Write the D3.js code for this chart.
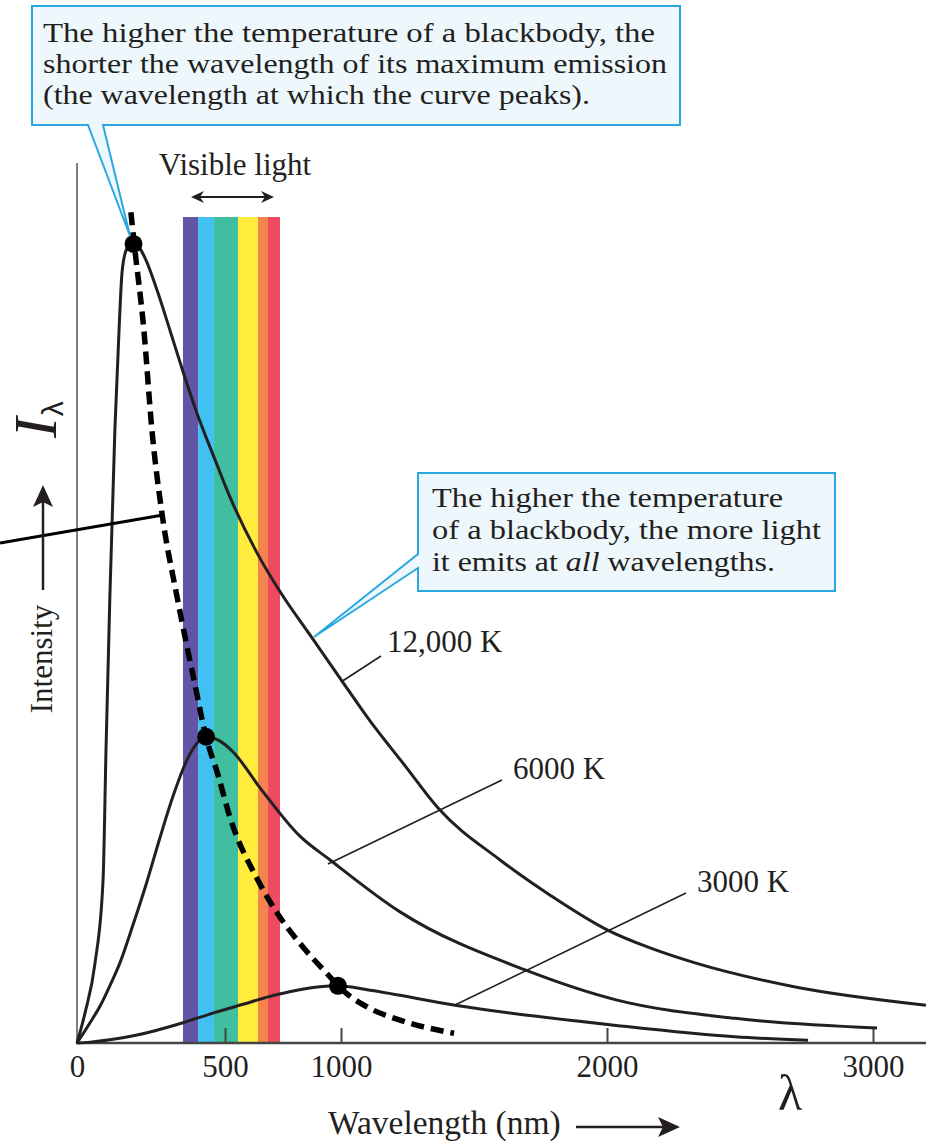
<!DOCTYPE html>
<html>
<head>
<meta charset="utf-8">
<script src="https://cdn.jsdelivr.net/npm/d3@7"></script>
<style>
  body { margin: 0; background: #fff; }
  svg text { font-family: "Liberation Serif", "Times New Roman", serif; fill: #231f20; }
</style>
</head>
<body>
<div id="chart"></div>
<script>
// values (wavelength in nm, intensity in arbitrary units 0-100)
const wl12000 = [0, 27, 61, 88, 98, 111, 128, 142, 152, 166, 189, 230, 270, 314, 358, 405, 466, 522, 638, 737, 879, 1000, 1109, 1241, 1365, 1598, 1786, 2004, 2162, 2331, 2703, 3199];
const in12000 = [0, 3.4, 9.1, 18.5, 33.3, 50.7, 69.7, 81.0, 87.5, 90.1, 91.1, 89.2, 85.6, 81.0, 76.3, 71.6, 66.3, 62.0, 55.7, 51.3, 45.9, 41.3, 36.6, 31.5, 26.7, 20.8, 16.8, 12.8, 10.8, 9.1, 6.4, 4.3];

const wl6000 = [0, 44, 78, 111, 145, 189, 236, 280, 324, 372, 409, 436, 483, 534, 651, 823, 953, 1222, 1692, 2034, 2481, 3015];
const in6000 = [0, 2.3, 4.2, 6.5, 9.1, 13.4, 18.3, 23.3, 28.0, 32.2, 34.2, 34.8, 34.3, 33.1, 29.0, 23.5, 20.8, 14.9, 8.3, 4.9, 2.8, 1.7];

const wl3000 = [0, 44, 203, 358, 459, 578, 694, 810, 909, 987, 1109, 1429, 2034, 2481, 2756];
const in3000 = [0, 0.1, 0.9, 2.3, 3.4, 4.4, 5.3, 6.0, 6.4, 6.5, 6.0, 4.3, 2.0, 0.7, 0.3];

// Wien's displacement curve (dashed) and the peaks
const wlWien = [182, 193, 226, 253, 287, 338, 395, 436, 476, 522, 642, 724, 836, 953, 987, 1098, 1222, 1425];
const inWien = [94.4, 90.9, 81.0, 69.7, 60.2, 50.7, 41.3, 34.8, 30.5, 25.6, 18.5, 14.8, 10.9, 7.5, 6.5, 4.1, 2.6, 1.1];
const peakWl = [191, 436, 987];
const peakIn = [90.8, 34.8, 6.5];

// visible band edges (nm) and colours
const bandEdges = [358, 409, 463, 556, 642, 685, 737];
const bandColors = ["#6255a8", "#40c1f1", "#3fbf9f", "#ffec3d", "#f4844c", "#ef4b60"];

const xTicks = [0, 500, 1000, 2000, 3000];
const tempLabels = ["12,000 K", "6000 K", "3000 K"];

const W = 926, H = 1141;
const svg = d3.select("#chart").append("svg")
  .attr("width", W).attr("height", H);

// the printed axis is not linear: 500 sits further right than it should
const x = d3.scaleLinear().domain([0, 500, 1000, 2000, 3000]).range([77, 225, 341, 607, 873]);
const y = d3.scaleLinear().domain([0, 100]).range([1043, 163]);
const ink = "#231f20";

// spectrum band
const bands = d3.range(bandColors.length).map(i => ({a: bandEdges[i], b: bandEdges[i + 1], c: bandColors[i]}));
svg.selectAll("rect.band").data(bands).enter().append("rect")
  .attr("class", "band")
  .attr("x", d => x(d.a)).attr("width", d => x(d.b) - x(d.a))
  .attr("y", 217).attr("height", y(0) - 217)
  .attr("fill", d => d.c);

// y axis line
svg.append("line")
  .attr("x1", x(0)).attr("x2", x(0)).attr("y1", y(0)).attr("y2", y(100))
  .attr("stroke", "#555").attr("stroke-width", 1.5);

// x axis
const xAxis = d3.axisBottom(x).tickValues(xTicks).tickSize(-15).tickSizeOuter(0).tickPadding(12)
  .tickFormat(d3.format("d"));
const gx = svg.append("g").attr("transform", `translate(0,${y(0)})`).call(xAxis);
gx.select(".domain").remove();
gx.selectAll(".tick line").attr("stroke", "#444").attr("stroke-width", 2);
gx.selectAll(".tick text").attr("font-size", 31).attr("font-family", "Liberation Serif").attr("fill", ink);
gx.selectAll(".tick").filter(d => d === 0).select("line").remove();
svg.append("line")
  .attr("x1", x(0) - 1).attr("x2", W).attr("y1", y(0)).attr("y2", y(0))
  .attr("stroke", "#444").attr("stroke-width", 2.5);

// blackbody curves
const line = d3.line().x(d => x(d[0])).y(d => y(d[1])).curve(d3.curveMonotoneX);
const series = [
  d3.zip(wl12000, in12000),
  d3.zip(wl6000, in6000),
  d3.zip(wl3000, in3000)
];
svg.selectAll("path.bb").data(series).enter().append("path")
  .attr("class", "bb")
  .attr("d", line)
  .attr("fill", "none").attr("stroke", ink).attr("stroke-width", 3);

// Wien curve
svg.append("path")
  .attr("d", line(d3.zip(wlWien, inWien)))
  .attr("fill", "none").attr("stroke", "#000").attr("stroke-width", 5.5)
  .attr("stroke-dasharray", "13,7");

svg.selectAll("circle.peak").data(d3.zip(peakWl, peakIn)).enter().append("circle")
  .attr("class", "peak")
  .attr("cx", d => x(d[0])).attr("cy", d => y(d[1])).attr("r", 9)
  .attr("fill", "#000");

// stray pointer line on the left
svg.append("line").attr("x1", 0).attr("y1", 543).attr("x2", 163).attr("y2", 515)
  .attr("stroke", "#000").attr("stroke-width", 3);

// temperature labels with leaders
const lab = [
  {t: tempLabels[0], tx: 387, ty: 652, x1: 341, y1: 682, x2: 381, y2: 656},
  {t: tempLabels[1], tx: 513, ty: 779, x1: 328, y1: 864, x2: 502, y2: 780},
  {t: tempLabels[2], tx: 697, ty: 892, x1: 455, y1: 1005, x2: 686, y2: 893}
];
svg.selectAll("line.lead").data(lab).enter().append("line")
  .attr("class", "lead")
  .attr("x1", d => d.x1).attr("y1", d => d.y1).attr("x2", d => d.x2).attr("y2", d => d.y2)
  .attr("stroke", ink).attr("stroke-width", 1.6);
svg.selectAll("text.temp").data(lab).enter().append("text")
  .attr("class", "temp")
  .attr("x", d => d.tx).attr("y", d => d.ty)
  .attr("font-size", 31)
  .text(d => d.t);

// visible light
svg.append("text").attr("x", 235).attr("y", 175).attr("text-anchor", "middle")
  .attr("font-size", 31).text("Visible light");
svg.append("line").attr("x1", 195).attr("x2", 270).attr("y1", 197).attr("y2", 197)
  .attr("stroke", ink).attr("stroke-width", 2);
svg.append("path").attr("d", "M191,197 L204,191 L200,197 L204,203 Z").attr("fill", ink);
svg.append("path").attr("d", "M274,197 L261,191 L265,197 L261,203 Z").attr("fill", ink);

// axis titles
svg.append("text").attr("transform", "translate(52,659) rotate(-90)")
  .attr("text-anchor", "middle").attr("font-size", 31).text("Intensity");
svg.append("line").attr("x1", 43).attr("x2", 43).attr("y1", 590).attr("y2", 500)
  .attr("stroke", ink).attr("stroke-width", 2.5);
svg.append("path").attr("d", "M43,485 L53,507 L43,502 L33,507 Z").attr("fill", ink);

const il = svg.append("text").attr("transform", "translate(56,438) rotate(-90)")
  .attr("font-size", 62).attr("font-style", "italic").attr("fill", "#000");
il.append("tspan").text("I");
il.append("tspan").attr("dy", 7).attr("dx", 1).attr("font-size", 30).attr("font-style", "normal")
  .attr("font-family", "Liberation Sans").text("λ");

svg.append("text").attr("x", 328).attr("y", 1134).attr("font-size", 33.5).text("Wavelength (nm)");
svg.append("line").attr("x1", 576).attr("x2", 665).attr("y1", 1127).attr("y2", 1127)
  .attr("stroke", ink).attr("stroke-width", 2.5);
svg.append("path").attr("d", "M680,1127 L658,1117 L663,1127 L658,1137 Z").attr("fill", ink);

svg.append("text").attr("x", 790).attr("y", 1110).attr("text-anchor", "middle")
  .attr("font-size", 50).attr("font-family", "Liberation Sans").attr("fill", "#000").text("λ");

// callouts
const blue = "#2aa9e0", pale = "#eef8fc";
svg.append("path")
  .attr("d", "M32,6 H680 V125 H103 L130,236 L88,125 H32 Z")
  .attr("fill", pale).attr("stroke", blue).attr("stroke-width", 2);
const note1 = ["The higher the temperature of a blackbody, the",
  "shorter the wavelength of its maximum emission",
  "(the wavelength at which the curve peaks)."];
const note1W = [612, 624, 547];
svg.selectAll("text.n1").data(note1).enter().append("text")
  .attr("class", "n1")
  .attr("x", 43).attr("y", (d, i) => 42 + i * 31)
  .attr("font-size", 28)
  .attr("textLength", (d, i) => note1W[i]).attr("lengthAdjust", "spacingAndGlyphs")
  .text(d => d);

svg.append("path")
  .attr("d", "M418,473 H835 V591 H418 V568 L314,637 L418,554 Z")
  .attr("fill", pale).attr("stroke", blue).attr("stroke-width", 2);
const n2 = svg.append("g");
n2.append("text").attr("x", 432).attr("y", 507).attr("font-size", 28)
  .attr("textLength", 351).attr("lengthAdjust", "spacingAndGlyphs").text("The higher the temperature");
n2.append("text").attr("x", 432).attr("y", 539).attr("font-size", 28)
  .attr("textLength", 389).attr("lengthAdjust", "spacingAndGlyphs").text("of a blackbody, the more light");
const t3 = n2.append("text").attr("x", 432).attr("y", 571).attr("font-size", 28)
  .attr("textLength", 343).attr("lengthAdjust", "spacingAndGlyphs");
t3.append("tspan").text("it emits at ");
t3.append("tspan").attr("font-style", "italic").text("all");
t3.append("tspan").text(" wavelengths.");
</script>
</body>
</html>
